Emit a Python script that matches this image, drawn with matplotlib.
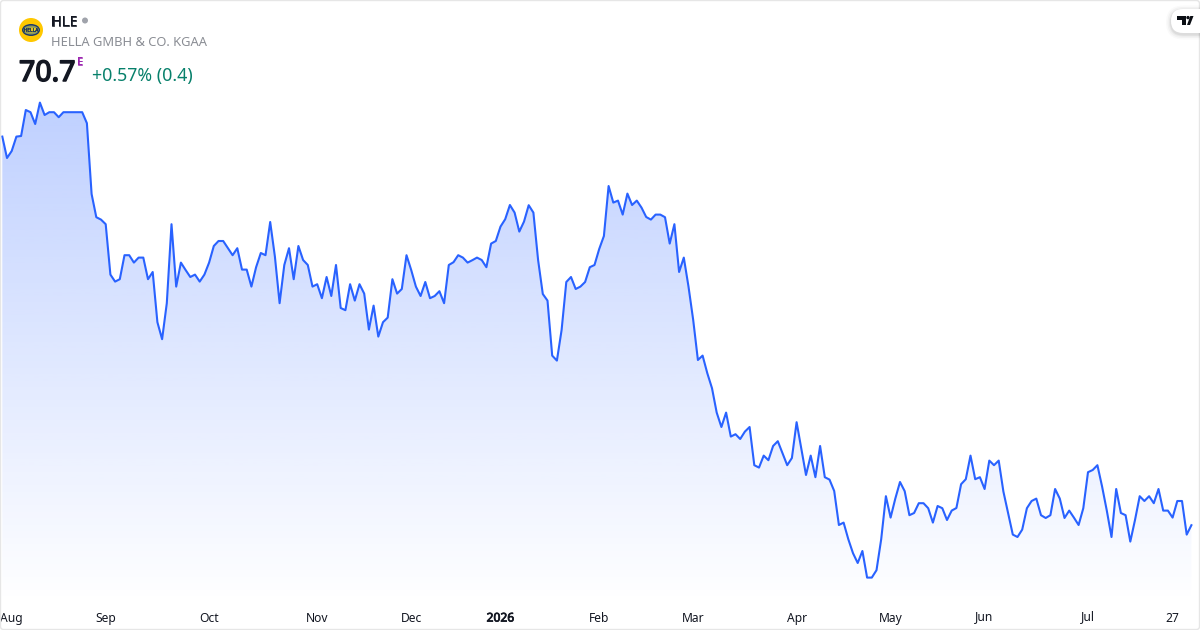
import matplotlib
matplotlib.use("Agg")
import numpy as np
import matplotlib.pyplot as plt
import matplotlib.patheffects as pe
from matplotlib.patches import Circle, Ellipse, FancyBboxPatch, Polygon
from matplotlib.colors import LinearSegmentedColormap

plt.rcParams['font.family'] = ['Noto Sans', 'DejaVu Sans']

prices = [
 90.12,89.05,89.40,90.12,90.15,91.45,91.34,90.75,91.82,91.20,91.34,91.34,91.09,91.34,91.34,91.34,91.34,91.34,90.79,87.25,
 86.09,85.97,85.74,83.22,82.87,82.99,84.19,84.19,83.82,84.07,84.07,82.99,83.35,80.84,79.99,81.79,85.74,82.62,83.82,83.45,
 83.10,83.22,82.87,83.22,83.82,84.65,84.90,84.90,84.54,84.19,84.54,83.47,83.47,82.62,83.59,84.30,84.19,85.85,84.12,81.79,
 83.70,84.54,82.99,84.65,83.95,83.70,82.62,82.74,82.04,83.10,82.15,83.70,81.55,81.44,82.74,81.92,82.74,82.27,80.47,81.67,
 80.12,80.84,81.07,82.99,82.27,82.50,84.19,83.45,82.62,82.15,82.85,82.04,82.15,82.39,81.79,83.70,83.84,84.19,84.07,83.82,
 83.94,84.07,83.95,83.59,84.77,84.90,85.62,85.99,86.70,86.32,85.37,85.87,86.69,86.32,83.95,82.25,81.92,79.17,78.92,80.45,
 82.85,83.10,82.50,82.62,82.85,83.59,83.70,84.50,85.15,87.65,86.82,86.92,86.22,87.27,86.70,86.92,86.57,86.10,85.97,86.22,
 86.22,86.09,84.77,85.74,83.35,84.07,82.62,80.95,78.95,79.17,78.29,77.54,76.32,75.60,76.32,75.12,75.24,75.00,75.37,75.60,
 73.69,73.57,74.17,73.94,74.65,74.89,74.29,73.69,74.05,75.84,74.53,73.20,74.17,73.09,74.65,73.09,72.97,72.40,70.70,70.82,
 69.99,69.29,68.80,69.40,68.07,68.07,68.44,69.99,72.14,71.07,72.02,72.85,72.39,71.19,71.30,71.79,71.79,71.54,70.82,71.65,
 71.54,70.95,71.42,71.55,72.74,72.99,74.17,72.99,73.09,72.50,73.92,73.69,73.92,72.37,71.30,70.22,70.10,70.47,71.54,71.90,
 72.02,71.19,71.05,71.19,72.50,72.02,71.05,71.42,71.07,70.70,71.54,73.34,73.45,73.69,72.62,71.42,70.10,72.50,71.30,71.19,
 69.87,70.95,72.14,71.90,72.14,71.79,72.50,71.42,71.42,71.07,71.90,71.90,70.22,70.69,
]
tick_positions = [2, 22, 44, 67, 87, 106, 127, 147, 169, 189, 209, 231, 249]
tick_labels = ["Aug", "Sep", "Oct", "Nov", "Dec", "2026", "Feb", "Mar", "Apr", "May", "Jun", "Jul", "27"]


def bold(width, color):
    return [pe.withStroke(linewidth=width, foreground=color)]


W, H = 1200, 630
LINE = "#2962FF"
fig = plt.figure(figsize=(12, 6.3), dpi=100, facecolor="white")

AX_BOTTOM = 606
ax = fig.add_axes([0, 1 - AX_BOTTOM / H, 1, AX_BOTTOM / H])
ax.set_xlim(-2.3 / 4.7, (W - 2.3) / 4.7)
ax.set_ylim(96.95 - AX_BOTTOM * 0.05, 96.95)
for s in ax.spines.values():
    s.set_visible(False)
ax.set_yticks([])
ax.set_xticks(tick_positions)
ax.set_xticklabels(tick_labels, fontsize=8.7, color="#131722")
ax.tick_params(axis="x", length=0, pad=11.2)
for lab in ax.get_xticklabels():
    lab.set_verticalalignment("baseline")
    if lab.get_text().startswith("J"):
        lab.set_y(2.0 / AX_BOTTOM)
ax.get_xticklabels()[5].set_path_effects(bold(0.55, "#131722"))
ax.patch.set_alpha(0)

x = np.arange(len(prices))
y = np.array(prices)
ybot = ax.get_ylim()[0]
poly = ax.fill_between(x, y, ybot, color="none", lw=0)
cmap = LinearSegmentedColormap.from_list(
    "g", [(41/255, 98/255, 255/255, 0.30), (41/255, 98/255, 255/255, 0.0)])
grad = np.linspace(0, 1, 256).reshape(-1, 1)
im = ax.imshow(grad, cmap=cmap, aspect="auto", interpolation="bilinear",
               extent=[x[0], x[-1], ybot + 0.1, y.max()], zorder=1)
im.set_clip_path(poly.get_paths()[0], transform=ax.transData)
ax.set_xlim(-2.3 / 4.7, (W - 2.3) / 4.7)
ax.set_ylim(ybot, 96.95)
ax.plot(x, y, color=LINE, lw=1.5, solid_joinstyle="round", zorder=3)

ov = fig.add_axes([0, 0, 1, 1])
ov.set_xlim(0, W)
ov.set_ylim(H, 0)
ov.axis("off")
ov.patch.set_alpha(0)

ov.add_patch(FancyBboxPatch((0.5, 0.5), W - 1, H - 1, boxstyle="round,pad=0,rounding_size=3",
                            fc="none", ec="#E6E6E6", lw=1.0))

# company logo
ov.add_patch(Circle((31, 30), 12, fc="#FFC800", ec="none"))
ov.add_patch(Ellipse((31, 30), 18, 12, fc="#1C3A6B", ec="none"))
ov.add_patch(Ellipse((31, 30), 15.5, 9, fc="#8E9A5A", ec="none"))
ov.add_patch(Ellipse((31, 30), 13.5, 4.6, fc="#F2D21E", ec="none"))
ov.text(31, 30.2, "HELLA", fontsize=3.6, color="#14305F", ha="center", va="center",
        path_effects=bold(0.25, "#14305F"))

ov.text(51, 22.5, "HLE", fontsize=10.4, color="#131722", va="center", ha="left",
        path_effects=bold(0.45, "#131722"))
ov.add_patch(Circle((85, 20.5), 3, fc="#A0A3AB", ec="none"))
ov.text(51, 42, "HELLA GMBH & CO. KGAA", fontsize=9.3, color="#8A8D94", va="center", ha="left")
ov.text(19, 73.5, "70.7", fontsize=20.5, color="#131722", va="center", ha="left",
        path_effects=bold(1.1, "#131722"))
ov.text(77, 62.5, "E", fontsize=7.8, color="#9C27B0", va="center", ha="left",
        path_effects=bold(0.4, "#9C27B0"))
ov.text(92, 76.5, "+0.57% (0.4)", fontsize=12.8, color="#07806B", va="center", ha="left")

# TradingView badge
for grow, a in [(5, 0.02), (3.5, 0.03), (2, 0.04), (1, 0.05)]:
    ov.add_patch(FancyBboxPatch((1171 - grow, 9 - grow + 1.5), 60 + 2 * grow, 24 + 2 * grow,
                                boxstyle="round,pad=0,rounding_size=%g" % (12 + grow),
                                fc="black", ec="none", alpha=a))
ov.add_patch(FancyBboxPatch((1171, 9), 60, 24, boxstyle="round,pad=0,rounding_size=12", fc="white", ec="none"))
ov.add_patch(Polygon([(1177, 16), (1186, 16), (1186, 25), (1182, 25), (1182, 19.5), (1177, 19.5)], fc="#0B0E14", ec="none"))
ov.add_patch(Circle((1188, 17.6), 1.7, fc="#0B0E14", ec="none"))
ov.add_patch(Polygon([(1187, 25), (1190.3, 16), (1193.5, 16), (1190, 25)], fc="#0B0E14", ec="none"))

fig.savefig("out.png", dpi=100, facecolor="white")
